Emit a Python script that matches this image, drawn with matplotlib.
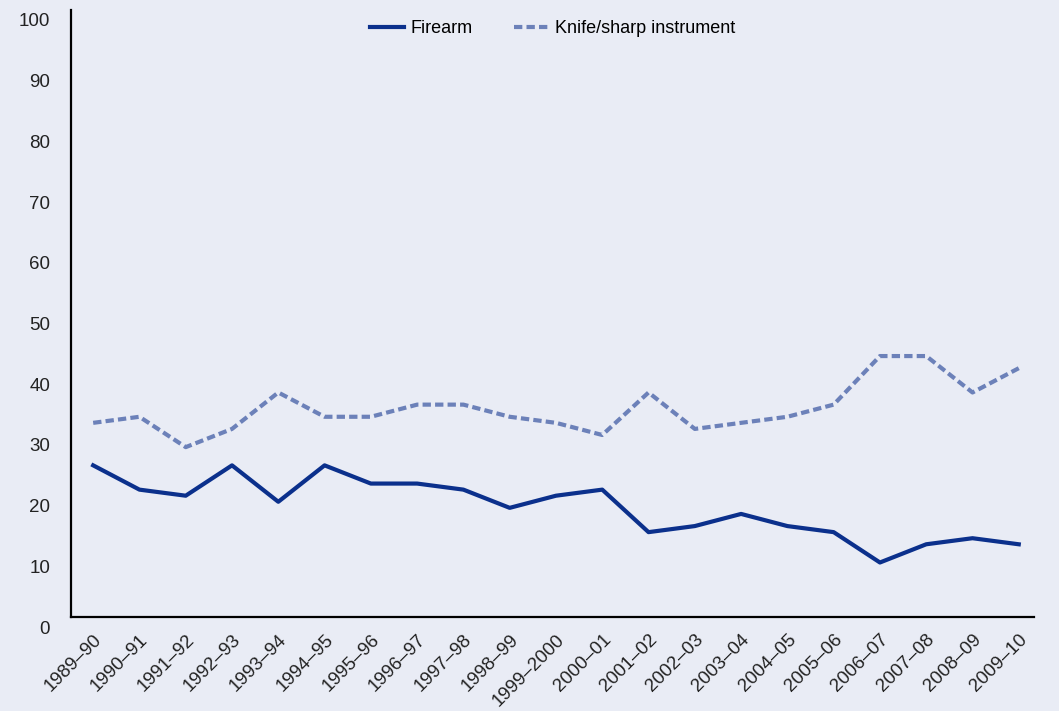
import matplotlib
matplotlib.use("Agg")
import matplotlib.pyplot as plt
import matplotlib.transforms as mtransforms

plt.rcParams['font.family'] = ['Liberation Sans Narrow', 'Liberation Sans', 'DejaVu Sans']

years = ['1989–90', '1990–91', '1991–92', '1992–93', '1993–94', '1994–95', '1995–96',
         '1996–97', '1997–98', '1998–99', '1999–2000', '2000–01', '2001–02', '2002–03',
         '2003–04', '2004–05', '2005–06', '2006–07', '2007–08', '2008–09', '2009–10']
firearm = [25, 21, 20, 25, 19, 25, 22, 22, 21, 18, 20, 21, 14, 15, 17, 15, 14, 9, 12, 13, 12]
knife = [32, 33, 28, 31, 37, 33, 33, 35, 35, 33, 32, 30, 37, 31, 32, 33, 35, 43, 43, 37, 41]

bg = '#E9ECF5'
fig = plt.figure(figsize=(10.59, 7.11), dpi=100, facecolor=bg)
ax = fig.add_axes([0.067, 0.132, 0.909, 0.854], facecolor=bg)

x = list(range(len(years)))
ax.plot(x, firearm, color='#0B308C', lw=3.0, label='Firearm')
ax.plot(x, knife, color='#6C81B9', lw=3.0, ls=(0, (2.0, 1.0)), label='Knife/sharp instrument')

ax.set_xlim(-0.48, 20.32)
ax.set_ylim(0, 100)
ax.set_yticks(range(0, 101, 10))
ax.set_xticks(x)
ax.set_xticklabels(years, rotation=45, ha='right', rotation_mode='anchor')
ax.tick_params(length=0, labelsize=13.5, colors='#222222')
ax.tick_params(axis='x', pad=10)
ax.tick_params(axis='y', pad=15)

# y labels in the original sit slightly below their values
off = mtransforms.ScaledTranslation(0, -10 / 100, fig.dpi_scale_trans)
for lab in ax.get_yticklabels():
    lab.set_transform(lab.get_transform() + off)

for s in ['top', 'right']:
    ax.spines[s].set_visible(False)
for s in ['left', 'bottom']:
    ax.spines[s].set_color('black')
    ax.spines[s].set_linewidth(1.6)

ax.legend(loc='upper center', bbox_to_anchor=(0.5, 1.01), ncol=2, frameon=False,
          fontsize=13, handlelength=1.9, handletextpad=0.35, columnspacing=2.3)

fig.savefig('out.png', dpi=100, facecolor=bg)
